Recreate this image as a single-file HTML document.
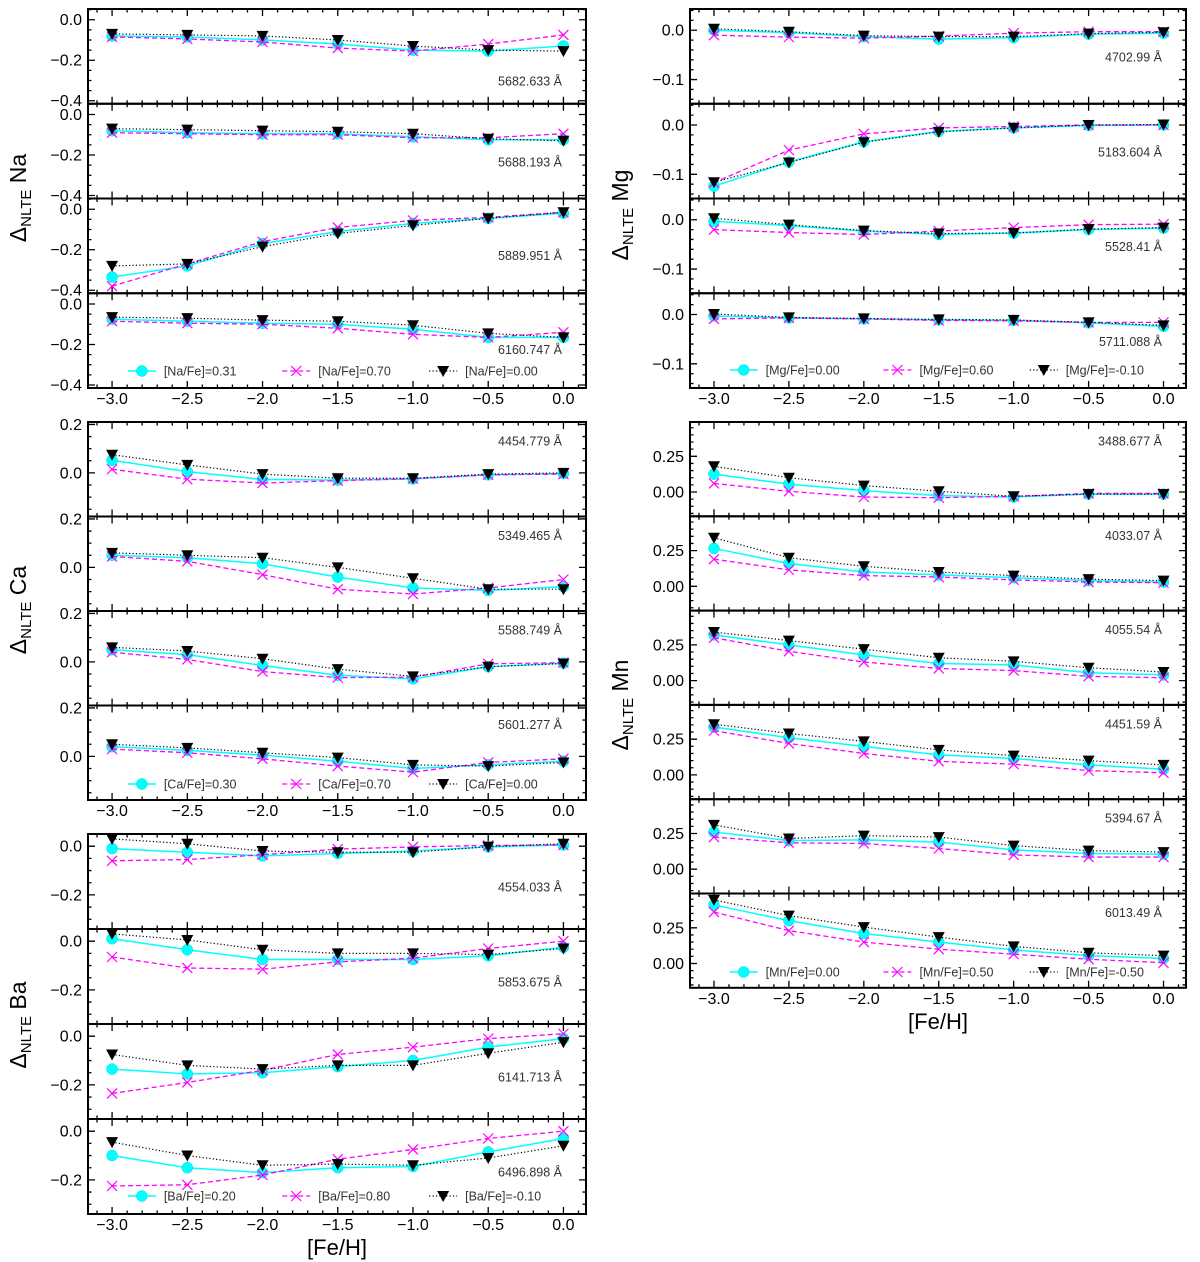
<!DOCTYPE html>
<html><head><meta charset="utf-8"><style>
html,body{margin:0;padding:0;background:#fff;}
svg{display:block;font-family:"Liberation Sans","DejaVu Sans",sans-serif;}
</style></head><body>
<svg id="chart" width="1200" height="1262" viewBox="0 0 1200 1262" xmlns="http://www.w3.org/2000/svg"></svg>
<script>
const xVals = [-3.0, -2.5, -2.0, -1.5, -1.0, -0.5, 0.0];
const xTickVals = [-3.0, -2.5, -2.0, -1.5, -1.0, -0.5, 0.0];
const xTickLabels = ["−3.0", "−2.5", "−2.0", "−1.5", "−1.0", "−0.5", "0.0"];

// Na
const naLines = ["5682.633 Å", "5688.193 Å", "5889.951 Å", "6160.747 Å"];
const naCyan = [
  [-0.08,-0.085,-0.10,-0.12,-0.15,-0.155,-0.13],
  [-0.08,-0.09,-0.095,-0.095,-0.11,-0.125,-0.125],
  [-0.335,-0.28,-0.17,-0.11,-0.07,-0.045,-0.02],
  [-0.075,-0.085,-0.095,-0.10,-0.125,-0.165,-0.165]];
const naMag = [
  [-0.085,-0.095,-0.11,-0.14,-0.155,-0.12,-0.075],
  [-0.09,-0.095,-0.10,-0.10,-0.115,-0.115,-0.095],
  [-0.38,-0.27,-0.16,-0.09,-0.055,-0.04,-0.015],
  [-0.085,-0.095,-0.10,-0.12,-0.15,-0.165,-0.14]];
const naBlk = [
  [-0.07,-0.075,-0.08,-0.10,-0.13,-0.15,-0.155],
  [-0.07,-0.075,-0.08,-0.085,-0.095,-0.12,-0.13],
  [-0.28,-0.27,-0.185,-0.12,-0.08,-0.045,-0.015],
  [-0.065,-0.07,-0.08,-0.085,-0.105,-0.145,-0.165]];
const naLegend = ["[Na/Fe]=0.31", "[Na/Fe]=0.70", "[Na/Fe]=0.00"];

// Ca
const caLines = ["4454.779 Å", "5349.465 Å", "5588.749 Å", "5601.277 Å"];
const caCyan = [
  [0.052,0.005,-0.027,-0.03,-0.025,-0.008,-0.003],
  [0.05,0.04,0.015,-0.04,-0.085,-0.095,-0.08],
  [0.05,0.03,-0.015,-0.055,-0.07,-0.02,-0.005],
  [0.04,0.025,0.005,-0.02,-0.05,-0.035,-0.02]];
const caMag = [
  [0.015,-0.026,-0.042,-0.032,-0.024,-0.008,-0.005],
  [0.045,0.025,-0.03,-0.09,-0.11,-0.085,-0.05],
  [0.04,0.01,-0.04,-0.065,-0.063,-0.008,-0.003],
  [0.03,0.015,-0.01,-0.04,-0.065,-0.025,-0.01]];
const caBlk = [
  [0.075,0.033,-0.005,-0.022,-0.022,-0.005,0.0],
  [0.06,0.05,0.04,0.0,-0.045,-0.09,-0.09],
  [0.06,0.045,0.013,-0.03,-0.06,-0.02,-0.007],
  [0.05,0.035,0.015,-0.005,-0.035,-0.04,-0.025]];
const caLegend = ["[Ca/Fe]=0.30", "[Ca/Fe]=0.70", "[Ca/Fe]=0.00"];

// Ba
const baLines = ["4554.033 Å", "5853.675 Å", "6141.713 Å", "6496.898 Å"];
const baCyan = [
  [-0.01,-0.025,-0.04,-0.03,-0.02,-0.003,0.005],
  [0.01,-0.035,-0.075,-0.075,-0.075,-0.06,-0.025],
  [-0.135,-0.155,-0.15,-0.125,-0.10,-0.045,-0.01],
  [-0.10,-0.15,-0.17,-0.15,-0.145,-0.085,-0.03]];
const baMag = [
  [-0.06,-0.055,-0.035,-0.012,-0.003,0.003,0.005],
  [-0.065,-0.11,-0.115,-0.085,-0.07,-0.03,0.0],
  [-0.235,-0.19,-0.14,-0.075,-0.045,-0.01,0.01],
  [-0.225,-0.22,-0.18,-0.115,-0.075,-0.03,0.0]];
const baBlk = [
  [0.03,0.01,-0.02,-0.025,-0.025,-0.002,0.01],
  [0.03,0.005,-0.035,-0.05,-0.05,-0.055,-0.03],
  [-0.075,-0.12,-0.135,-0.12,-0.12,-0.07,-0.025],
  [-0.045,-0.10,-0.14,-0.135,-0.14,-0.11,-0.06]];
const baLegend = ["[Ba/Fe]=0.20", "[Ba/Fe]=0.80", "[Ba/Fe]=-0.10"];

// Mg
const mgLines = ["4702.99 Å", "5183.604 Å", "5528.41 Å", "5711.088 Å"];
const mgCyan = [
  [0.0,-0.005,-0.013,-0.018,-0.015,-0.008,-0.006],
  [-0.124,-0.075,-0.034,-0.013,-0.006,-0.001,0.0],
  [-0.003,-0.012,-0.023,-0.03,-0.027,-0.02,-0.017],
  [-0.003,-0.007,-0.009,-0.011,-0.012,-0.017,-0.024]];
const mgMag = [
  [-0.01,-0.014,-0.016,-0.012,-0.006,-0.003,-0.003],
  [-0.117,-0.051,-0.018,-0.006,-0.003,0.0,0.0],
  [-0.02,-0.026,-0.03,-0.023,-0.016,-0.01,-0.009],
  [-0.009,-0.007,-0.009,-0.012,-0.013,-0.016,-0.016]];
const mgBlk = [
  [0.003,-0.003,-0.011,-0.013,-0.013,-0.007,-0.004],
  [-0.116,-0.076,-0.035,-0.014,-0.006,0.0,0.001],
  [0.003,-0.01,-0.022,-0.028,-0.027,-0.019,-0.016],
  [0.001,-0.006,-0.008,-0.01,-0.011,-0.016,-0.022]];
const mgLegend = ["[Mg/Fe]=0.00", "[Mg/Fe]=0.60", "[Mg/Fe]=-0.10"];

// Mn
const mnLines = ["3488.677 Å", "4033.07 Å", "4055.54 Å", "4451.59 Å", "5394.67 Å", "6013.49 Å"];
const mnCyan = [
  [0.125,0.055,0.01,-0.025,-0.035,-0.015,-0.015],
  [0.265,0.16,0.10,0.08,0.06,0.04,0.03],
  [0.32,0.25,0.18,0.12,0.11,0.055,0.04],
  [0.335,0.26,0.20,0.14,0.115,0.07,0.04],
  [0.26,0.20,0.205,0.19,0.135,0.11,0.105],
  [0.41,0.30,0.21,0.15,0.095,0.055,0.035]];
const mnMag = [
  [0.06,0.005,-0.035,-0.04,-0.03,-0.01,-0.01],
  [0.19,0.115,0.075,0.065,0.045,0.03,0.025],
  [0.30,0.205,0.13,0.085,0.07,0.03,0.02],
  [0.31,0.22,0.15,0.095,0.075,0.03,0.015],
  [0.225,0.185,0.18,0.145,0.10,0.085,0.085],
  [0.36,0.23,0.15,0.10,0.065,0.03,0.005]];
const mnBlk = [
  [0.18,0.10,0.045,0.005,-0.03,-0.015,-0.015],
  [0.34,0.20,0.14,0.10,0.075,0.05,0.04],
  [0.34,0.28,0.22,0.16,0.135,0.09,0.06],
  [0.355,0.29,0.235,0.175,0.135,0.10,0.07],
  [0.31,0.215,0.235,0.225,0.165,0.13,0.12],
  [0.445,0.335,0.255,0.185,0.12,0.075,0.055]];
const mnLegend = ["[Mn/Fe]=0.00", "[Mn/Fe]=0.50", "[Mn/Fe]=-0.50"];

const NS = "http://www.w3.org/2000/svg";
const svg = document.getElementById("chart");
function mk(tag, attrs, parent) {
  const e = document.createElementNS(NS, tag);
  for (const k in attrs) e.setAttribute(k, attrs[k]);
  (parent || svg).appendChild(e);
  return e;
}
const XLIM = [-3.16, 0.15];

const groups = [
  {key:"na", el:"Na", x0:88, x1:586, top:9, h:94.75, ylim:[-0.415,0.053], yt:[0,-0.2,-0.4], ytl:["0.0","−0.2","−0.4"], minor:0.05,
   lines:naLines, c:naCyan, m:naMag, b:naBlk, leg:naLegend, annOff:[72,58,57,56], legY:371, labY:198},
  {key:"ca", el:"Ca", x0:88, x1:586, top:422, h:94.5, ylim:[-0.18,0.21], yt:[0.2,0.0], ytl:["0.2","0.0"], minor:0.05,
   lines:caLines, c:caCyan, m:caMag, b:caBlk, leg:caLegend, annOff:[19,19,19,19], legY:784, labY:610},
  {key:"ba", el:"Ba", x0:88, x1:586, top:834, h:95, ylim:[-0.34,0.05], yt:[0.0,-0.2], ytl:["0.0","−0.2"], minor:0.05,
   lines:baLines, c:baCyan, m:baMag, b:baBlk, leg:baLegend, annOff:[53,53,53,53], legY:1196, labY:1025, xlabel:true},
  {key:"mg", el:"Mg", x0:690, x1:1186, top:9, h:94.75, ylim:[-0.149,0.043], yt:[0.0,-0.1], ytl:["0.0","−0.1"], minor:0.02,
   lines:mgLines, c:mgCyan, m:mgMag, b:mgBlk, leg:mgLegend, annOff:[48,48,48,48], legY:370, labY:215},
  {key:"mn", el:"Mn", x0:690, x1:1186, top:422, h:94.3, ylim:[-0.17,0.49], yt:[0.25,0.0], ytl:["0.25","0.00"], minor:0.05,
   lines:mnLines, c:mnCyan, m:mnMag, b:mnBlk, leg:mnLegend, annOff:[19,19,19,19,19,19], legY:972, labY:705, xlabel:true}
];

function marker(kind, x, y, parent) {
  let e;
  if (kind === 0) {
    e = mk("circle", {cx:x, cy:y, r:5.5, fill:"#00ffff", stroke:"#00e0e0", "stroke-width":0.5}, parent);
  } else if (kind === 1) {
    const s = 5;
    e = mk("path", {d:`M${x-s},${y-s}L${x+s},${y+s}M${x-s},${y+s}L${x+s},${y-s}`, stroke:"#ff00ff", "stroke-width":1.2, fill:"none"}, parent);
  } else {
    e = mk("path", {d:`M${x-6},${y-5}L${x+6},${y-5}L${x},${y+6}Z`, fill:"#000"}, parent);
  }
  return e;
}
const styles = [
  {stroke:"#00ffff", "stroke-width":1.5, fill:"none"},
  {stroke:"#ff00ff", "stroke-width":1.3, fill:"none", "stroke-dasharray":"5,3"},
  {stroke:"#000", "stroke-width":1.2, fill:"none", "stroke-dasharray":"1.2,2.2"}
];

groups.forEach(g => {
  const gEl = mk("g", {});
  
  
  const xs = v => g.x0 + (v - XLIM[0]) / (XLIM[1] - XLIM[0]) * (g.x1 - g.x0);
  const n = g.lines.length;
  for (let i = 0; i < n; i++) {
    const pt = g.top + i * g.h, pb = pt + g.h;
    const ys = v => pb - (v - g.ylim[0]) / (g.ylim[1] - g.ylim[0]) * g.h;
    const p = mk("g", {}, gEl);
    
    
    let td = "";
    for (let k = -32; k <= 1; k++) {
      const v = k / 10; if (v < XLIM[0] || v > XLIM[1]) continue;
      const major = Math.abs(Math.round(v * 2) - v * 2) < 1e-6;
      const L = major ? 7 : 3.5, X = xs(v);
      td += `M${X},${pb}v${-L}M${X},${pt}v${L}`;
    }
    const k0 = Math.ceil(g.ylim[0] / g.minor - 1e-6), k1 = Math.floor(g.ylim[1] / g.minor + 1e-6);
    for (let k = k0; k <= k1; k++) {
      const v = k * g.minor;
      const major = g.yt.some(t => Math.abs(t - v) < 1e-6);
      const L = major ? 7 : 3.5, Y = ys(v);
      td += `M${g.x0},${Y}h${L}M${g.x1},${Y}h${-L}`;
    }
    mk("path", {d:td, stroke:"#000", "stroke-width":1.3, fill:"none"}, p);
    g.yt.forEach((t, j) => {
      const tx = mk("text", {x:g.x0 - 6, y:ys(t) + 5.5, "text-anchor":"end", "font-size":16, fill:"#000"}, p);
      tx.textContent = g.ytl[j];
      
      
    });
    [g.c[i], g.m[i], g.b[i]].forEach((arr, s) => {
      const d = arr.map((v, j) => (j ? "L" : "M") + xs(xVals[j]) + "," + ys(v)).join("");
      const ln = mk("path", Object.assign({d:d}, styles[s]), p);
      
      
      arr.forEach((v, j) => {
        const mkEl = marker(s, xs(xVals[j]), ys(v), p);
        
        
      });
    });
    const an = mk("text", {x:g.x1 - 24, y:pt + g.annOff[i] + 4.5, "text-anchor":"end", "font-size":12.5, fill:"#333"}, p);
    an.textContent = g.lines[i];
    
    
    const box = mk("rect", {x:g.x0, y:pt, width:g.x1 - g.x0, height:g.h, fill:"none", stroke:"#000", "stroke-width":2}, p);
    
    
  }
  const bottom = g.top + n * g.h;
  xTickVals.forEach((v, j) => {
    const t = mk("text", {x:xs(v), y:bottom + 16, "text-anchor":"middle", "font-size":16, fill:"#000"}, gEl);
    t.textContent = xTickLabels[j];
    
    
  });
  if (g.xlabel) {
    const t = mk("text", {x:(g.x0 + g.x1) / 2, y:bottom + 41, "text-anchor":"middle", "font-size":22, fill:"#000"}, gEl);
    t.textContent = "[Fe/H]";
    
    
  }
  const lx = g.x0 - 62;
  const yl = mk("text", {x:0, y:0, transform:`translate(${lx},${g.labY}) rotate(-90)`, "text-anchor":"middle", "font-size":23, fill:"#000"}, gEl);
  
  
  const t1 = mk("tspan", {}, yl); t1.textContent = "Δ";
  const t2 = mk("tspan", {"font-size":15, dy:5}, yl); t2.textContent = "NLTE";
  const t3 = mk("tspan", {dy:-5}, yl); t3.textContent = " " + g.el;
  const W = g.x1 - g.x0;
  const lg = mk("g", {}, gEl);
  
  
  [0.08, 0.39, 0.685].forEach((f, s) => {
    const hx = g.x0 + f * W;
    const ent = mk("g", {}, lg);
    
    
    mk("path", Object.assign({d:`M${hx},${g.legY}h28`}, styles[s]), ent);
    marker(s, hx + 14, g.legY, ent);
    const t = mk("text", {x:hx + 36, y:g.legY + 4.5, "font-size":12.5, fill:"#333"}, ent);
    t.textContent = g.leg[s];
  });
});
</script>
</body></html>
